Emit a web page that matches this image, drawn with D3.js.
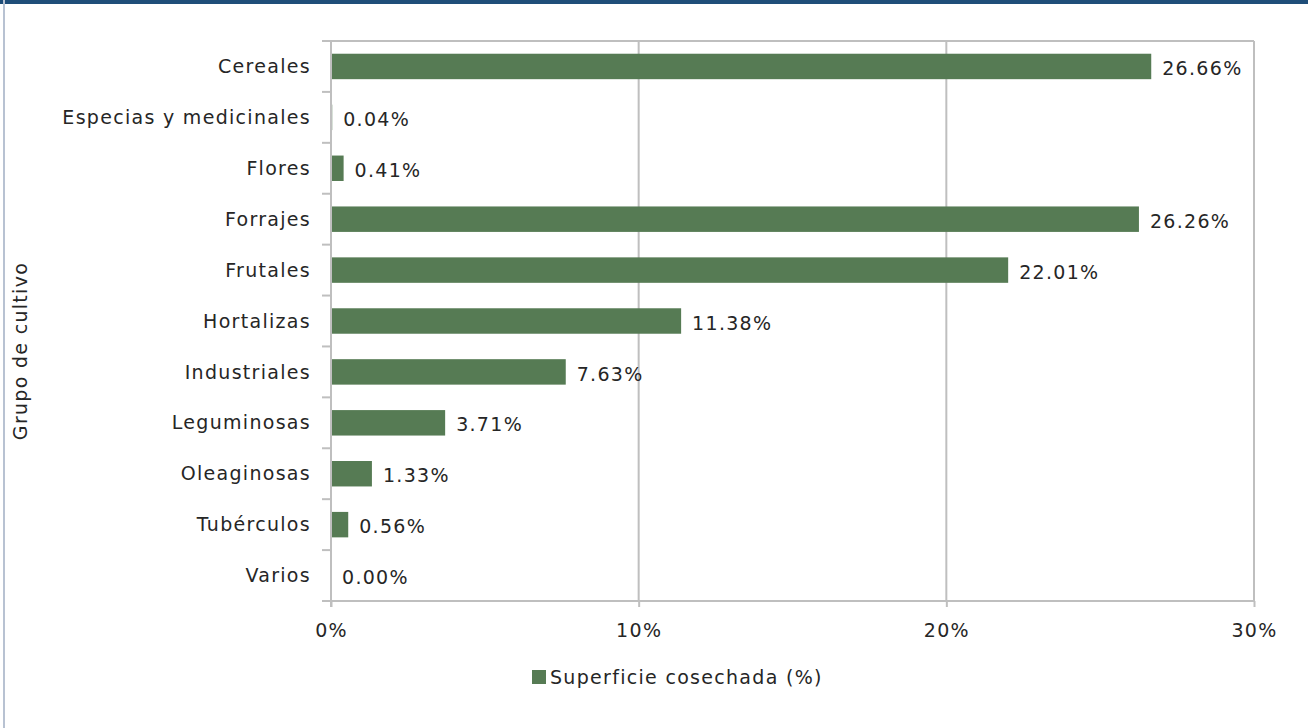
<!DOCTYPE html>
<html>
<head>
<meta charset="utf-8">
<script src="https://cdn.jsdelivr.net/npm/d3@7"></script>
<style>
  body { margin: 0; background: #fff; }
  svg text { font-family: "DejaVu Sans", sans-serif; fill: #262626; letter-spacing: 1.3px; }
</style>
</head>
<body>
<div id="chart"></div>
<script>
// data
var categories = ["Cereales", "Especias y medicinales", "Flores", "Forrajes", "Frutales",
  "Hortalizas", "Industriales", "Leguminosas", "Oleaginosas", "Tubérculos", "Varios"];
var values = [26.66, 0.04, 0.41, 26.26, 22.01, 11.38, 7.63, 3.71, 1.33, 0.56, 0.00];
var xTicks = [0, 10, 20, 30];
var seriesName = "Superficie cosechada (%)";
var axisTitle = "Grupo de cultivo";

var W = 1308, H = 728;
var margin = {top: 41, right: 54, bottom: 127, left: 331},
    width = W - margin.left - margin.right,
    height = H - margin.top - margin.bottom;

var barColor = "#567b54", gridColor = "#bfbfbf", fs = 19;

var svg = d3.select("#chart").append("svg")
  .attr("width", W).attr("height", H);

// frame: dark top stripe and thin left line
svg.append("rect").attr("x", 0).attr("y", 0).attr("width", W).attr("height", 4).attr("fill", "#1f4e79");
svg.append("rect").attr("x", 3).attr("y", 0).attr("width", 2).attr("height", H).attr("fill", "#b8c2d2");

var g = svg.append("g").attr("transform", "translate(" + margin.left + "," + margin.top + ")");

var x = d3.scaleLinear().domain([0, 30]).range([0, width]);
var y = d3.scaleBand().domain(categories).range([0, height]).paddingInner(0.5).paddingOuter(0.25);

// vertical grid lines
g.selectAll(".grid").data(xTicks.slice(1)).enter().append("line")
  .attr("x1", d => x(d)).attr("x2", d => x(d))
  .attr("y1", 0).attr("y2", height)
  .attr("stroke", gridColor).attr("stroke-width", 2);
// top border of the plot area
g.append("line").attr("x1", 0).attr("x2", width).attr("y1", 0).attr("y2", 0)
  .attr("stroke", gridColor).attr("stroke-width", 2);

// bottom axis
var xAxis = g.append("g").attr("transform", "translate(0," + height + ")")
  .call(d3.axisBottom(x).tickValues(xTicks).tickSize(6).tickPadding(17).tickFormat(d => d + "%"));
xAxis.select(".domain").remove();
xAxis.selectAll(".tick line").attr("stroke", gridColor).attr("stroke-width", 2);
xAxis.selectAll("text").attr("font-size", fs).attr("font-family", null);
xAxis.append("line").attr("x1", -9).attr("x2", width).attr("y1", 0).attr("y2", 0)
  .attr("stroke", gridColor).attr("stroke-width", 2);

// left axis: ticks sit between categories
var step = height / categories.length;
var yAxis = g.append("g");
yAxis.append("line").attr("x1", 0).attr("x2", 0).attr("y1", 0).attr("y2", height + 6)
  .attr("stroke", gridColor).attr("stroke-width", 2);
yAxis.selectAll(".ytick").data(d3.range(categories.length)).enter().append("line")
  .attr("x1", -9).attr("x2", 0)
  .attr("y1", i => i * step).attr("y2", i => i * step)
  .attr("stroke", gridColor).attr("stroke-width", 2);
yAxis.selectAll(".ylab").data(categories).enter().append("text")
  .attr("x", -20).attr("y", d => y(d) + y.bandwidth() / 2)
  .attr("dy", "0.35em").attr("text-anchor", "end").attr("font-size", fs)
  .text(d => d);

// bars
var data = categories.map((c, i) => ({cat: c, val: values[i]}));
g.selectAll(".bar").data(data).enter().append("rect")
  .attr("x", 1).attr("y", d => y(d.cat))
  .attr("width", d => Math.max(0, x(d.val) - 1)).attr("height", y.bandwidth())
  .attr("fill", barColor);

// value labels
g.selectAll(".val").data(data).enter().append("text")
  .attr("x", d => x(d.val) + 11).attr("y", d => y(d.cat) + y.bandwidth() / 2 + 2)
  .attr("dy", "0.35em").attr("font-size", fs)
  .text(d => d.val.toFixed(2) + "%");

// axis title
svg.append("text")
  .attr("transform", "translate(27,351) rotate(-90)")
  .attr("text-anchor", "middle").attr("font-size", fs)
  .text(axisTitle);

// legend
var leg = svg.append("g").attr("transform", "translate(532,677)");
leg.append("rect").attr("x", 0).attr("y", -7).attr("width", 14).attr("height", 14).attr("fill", barColor);
leg.append("text").attr("x", 18).attr("dy", "0.35em").attr("font-size", fs).text(seriesName);
</script>
</body>
</html>
